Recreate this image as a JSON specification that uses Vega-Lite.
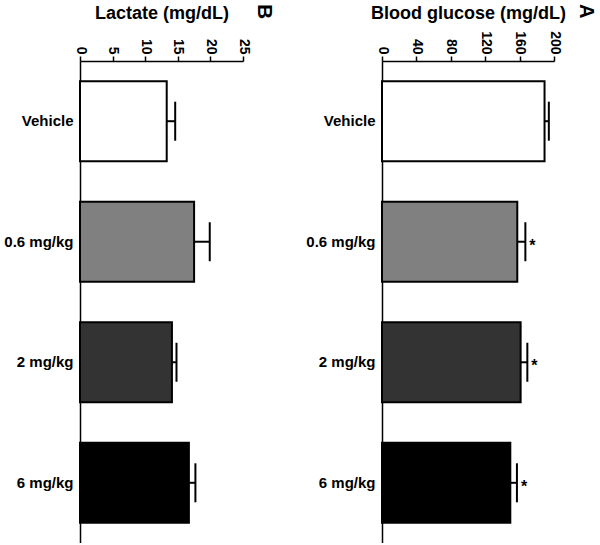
{
  "$schema": "https://vega.github.io/schema/vega-lite/v6.json",
  "padding": {"left": 0, "top": 4, "right": 0, "bottom": 0},
  "background": "white",
  "config": {
    "view": {"stroke": null},
    "font": "Liberation Sans",
    "axis": {
      "domainColor": "black", "domainWidth": 1.5, "tickColor": "black", "tickWidth": 1.5,
      "labelColor": "black", "titleColor": "black", "labelFont": "Liberation Sans", "titleFont": "Liberation Sans",
      "labelFontWeight": "bold", "titleFontWeight": "bold", "grid": false, "labelOverlap": false, "labelFlush": false
    }
  },
  "datasets": {
    "lactate": [
      {"group": "Vehicle", "value": 13.3, "upper": 14.6},
      {"group": "0.6 mg/kg", "value": 17.5, "upper": 19.9},
      {"group": "2 mg/kg", "value": 14.1, "upper": 14.8},
      {"group": "6 mg/kg", "value": 16.7, "upper": 17.7}
    ],
    "glucose": [
      {"group": "Vehicle", "value": 189, "upper": 194, "star": ""},
      {"group": "0.6 mg/kg", "value": 157.3, "upper": 166.7, "star": "*"},
      {"group": "2 mg/kg", "value": 161.2, "upper": 169, "star": "*"},
      {"group": "6 mg/kg", "value": 149.2, "upper": 156.9, "star": "*"}
    ]
  },
  "spacing": 27,
  "hconcat": [
    {
      "data": {"name": "lactate"},
      "width": 163,
      "height": 482,
      "title": {"text": "B", "orient": "right", "anchor": "start", "frame": "bounds", "angle": 90, "fontSize": 21, "fontWeight": 900, "offset": 4, "color": "black"},
      "encoding": {
        "y": {"field": "group", "type": "nominal", "sort": null,
          "scale": {"paddingInner": 0.335, "paddingOuter": 0.167},
          "axis": {"orient": "left", "ticks": false, "labelFontSize": 15, "labelPadding": 7, "title": null, "minExtent": 80, "maxExtent": 80}}
      },
      "layer": [
        {
          "mark": {"type": "bar", "stroke": "black", "strokeWidth": 2},
          "encoding": {
            "x": {"field": "value", "type": "quantitative", "scale": {"domain": [0, 25], "nice": false},
              "axis": {"orient": "top", "values": [0, 5, 10, 15, 20, 25], "labelOverlap": false, "labelFlush": false, "title": "Lactate (mg/dL)", "labelAngle": 90, "labelFontSize": 14, "tickSize": 5, "titleFontSize": 18, "titlePadding": 8, "minExtent": 31, "maxExtent": 31}},
            "fill": {"field": "group", "type": "nominal", "scale": {"domain": ["Vehicle", "0.6 mg/kg", "2 mg/kg", "6 mg/kg"], "range": ["#ffffff", "#808080", "#333333", "#000000"]}, "legend": null}
          }
        },
        {
          "mark": {"type": "rule", "strokeWidth": 2, "color": "black"},
          "encoding": {"x": {"field": "value", "type": "quantitative",
              "axis": {"orient": "top", "values": [0, 5, 10, 15, 20, 25], "labelOverlap": false, "labelFlush": false, "title": "Lactate (mg/dL)", "labelAngle": 90, "labelFontSize": 14, "tickSize": 5, "titleFontSize": 18, "titlePadding": 8, "minExtent": 31, "maxExtent": 31}},
            "x2": {"field": "upper"}}
        },
        {
          "mark": {"type": "tick", "thickness": 2, "size": 39, "color": "black", "opacity": 1},
          "encoding": {"x": {"field": "upper", "type": "quantitative",
              "axis": {"orient": "top", "values": [0, 5, 10, 15, 20, 25], "labelOverlap": false, "labelFlush": false, "title": "Lactate (mg/dL)", "labelAngle": 90, "labelFontSize": 14, "tickSize": 5, "titleFontSize": 18, "titlePadding": 8, "minExtent": 31, "maxExtent": 31}}}
        }
      ]
    },
    {
      "data": {"name": "glucose"},
      "width": 172,
      "height": 482,
      "title": {"text": "A", "orient": "right", "anchor": "start", "frame": "bounds", "angle": 90, "fontSize": 20, "fontWeight": 900, "offset": 11, "color": "black"},
      "encoding": {
        "y": {"field": "group", "type": "nominal", "sort": null,
          "scale": {"paddingInner": 0.335, "paddingOuter": 0.167},
          "axis": {"orient": "left", "ticks": false, "labelFontSize": 15, "labelPadding": 7, "title": null, "minExtent": 80, "maxExtent": 80}}
      },
      "layer": [
        {
          "mark": {"type": "bar", "stroke": "black", "strokeWidth": 2},
          "encoding": {
            "x": {"field": "value", "type": "quantitative", "scale": {"domain": [0, 200], "nice": false},
              "axis": {"orient": "top", "values": [0, 40, 80, 120, 160, 200], "labelOverlap": false, "labelFlush": false, "title": "Blood glucose (mg/dL)", "labelAngle": 90, "labelFontSize": 14, "tickSize": 5, "titleFontSize": 18, "titlePadding": 8, "minExtent": 31, "maxExtent": 31}},
            "fill": {"field": "group", "type": "nominal", "scale": {"domain": ["Vehicle", "0.6 mg/kg", "2 mg/kg", "6 mg/kg"], "range": ["#ffffff", "#808080", "#333333", "#000000"]}, "legend": null}
          }
        },
        {
          "mark": {"type": "rule", "strokeWidth": 2, "color": "black"},
          "encoding": {"x": {"field": "value", "type": "quantitative",
              "axis": {"orient": "top", "values": [0, 40, 80, 120, 160, 200], "labelOverlap": false, "labelFlush": false, "title": "Blood glucose (mg/dL)", "labelAngle": 90, "labelFontSize": 14, "tickSize": 5, "titleFontSize": 18, "titlePadding": 8, "minExtent": 31, "maxExtent": 31}},
            "x2": {"field": "upper"}}
        },
        {
          "mark": {"type": "tick", "thickness": 2, "size": 39, "color": "black", "opacity": 1},
          "encoding": {"x": {"field": "upper", "type": "quantitative",
              "axis": {"orient": "top", "values": [0, 40, 80, 120, 160, 200], "labelOverlap": false, "labelFlush": false, "title": "Blood glucose (mg/dL)", "labelAngle": 90, "labelFontSize": 14, "tickSize": 5, "titleFontSize": 18, "titlePadding": 8, "minExtent": 31, "maxExtent": 31}}}
        },
        {
          "mark": {"type": "text", "align": "left", "baseline": "middle", "dx": 4, "dy": 4, "fontSize": 16, "fontWeight": "bold", "color": "black"},
          "encoding": {"x": {"field": "upper", "type": "quantitative",
              "axis": {"orient": "top", "values": [0, 40, 80, 120, 160, 200], "labelOverlap": false, "labelFlush": false, "title": "Blood glucose (mg/dL)", "labelAngle": 90, "labelFontSize": 14, "tickSize": 5, "titleFontSize": 18, "titlePadding": 8, "minExtent": 31, "maxExtent": 31}},
            "text": {"field": "star"}}
        }
      ]
    }
  ]
}
